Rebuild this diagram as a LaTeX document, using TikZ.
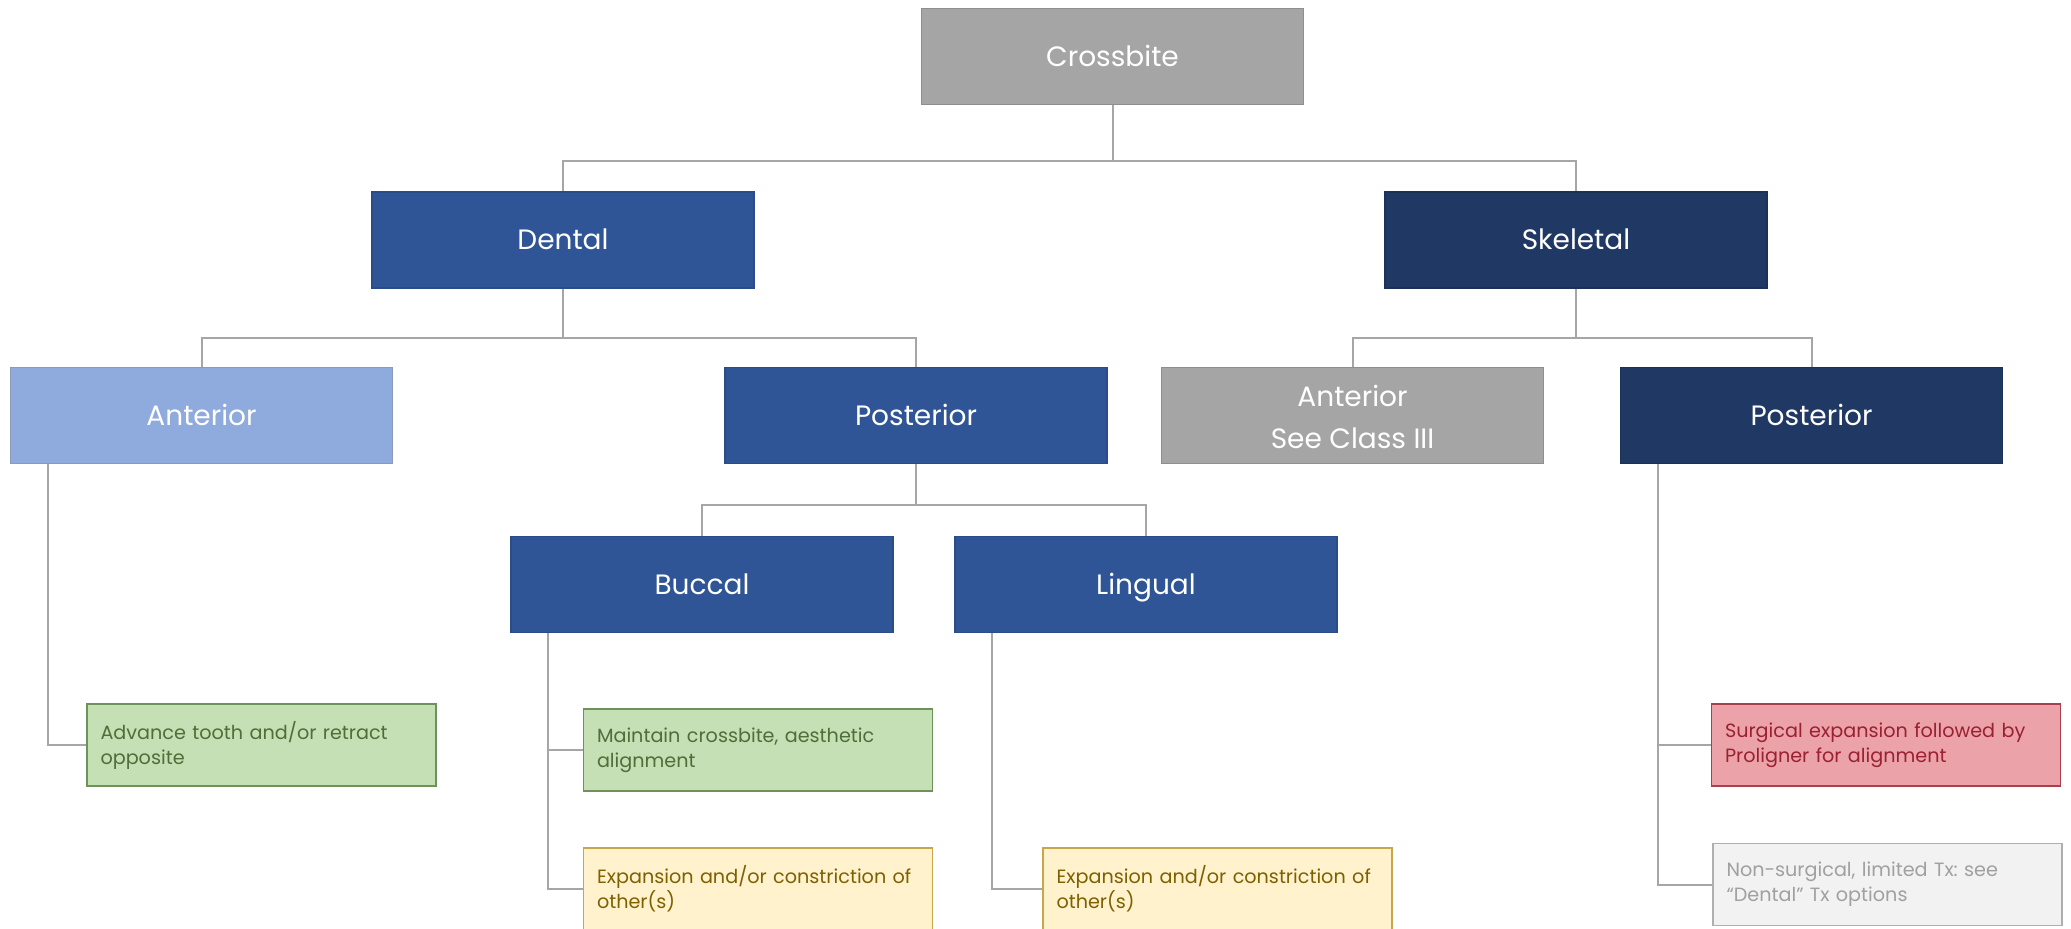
\documentclass[tikz,border=0pt]{standalone}
\usepackage{fontspec}
\setmainfont{Poppins}
\usetikzlibrary{calc}
\frenchspacing
\definecolor{conn}{HTML}{A6A6A6}
\definecolor{greyfill}{HTML}{A5A5A5}
\definecolor{greyedge}{HTML}{8E8E8E}
\definecolor{blue1}{HTML}{2F5597}
\definecolor{blue1edge}{HTML}{2A4C88}
\definecolor{navy}{HTML}{203864}
\definecolor{navyedge}{HTML}{1C3158}
\definecolor{lightblue}{HTML}{8FAADC}
\definecolor{lightblueedge}{HTML}{8A9BBA}
\definecolor{greenfill}{HTML}{C5E0B4}
\definecolor{greenedge}{HTML}{6F915A}
\definecolor{greentext}{HTML}{4E6E3A}
\definecolor{yellowfill}{HTML}{FFF2CC}
\definecolor{yellowedge}{HTML}{C9A64A}
\definecolor{yellowtext}{HTML}{7F6000}
\definecolor{redfill}{HTML}{EBA3A9}
\definecolor{rededge}{HTML}{A8404C}
\definecolor{redtext}{HTML}{9A2032}
\definecolor{palefill}{HTML}{F2F2F2}
\definecolor{paleedge}{HTML}{AFAFAF}
\definecolor{paletext}{HTML}{A0A0A0}
\begin{document}
\begin{tikzpicture}[x=0.5pt,y=-0.5pt,
  mainbox/.style={fill=#1, rectangle, minimum width=191pt, minimum height=48pt,
    inner sep=0pt, align=center, text=white, line width=0.7pt,
    font=\fontsize{14}{21}\selectfont,
    execute at begin node={\rule[-6.3pt]{0pt}{22.4pt}}},
  leaf/.style={rectangle, minimum width=174.5pt, minimum height=41pt,
    text width=161pt, inner xsep=6.75pt, inner ysep=0pt, align=left,
    line width=0.8pt, font=\fontsize{9.6}{12.5}\selectfont},
  greenleaf/.style={leaf, fill=greenfill, draw=greenedge, text=greentext},
  yellowleaf/.style={leaf, fill=yellowfill, draw=yellowedge, text=yellowtext},
  redleaf/.style={leaf, fill=redfill, draw=rededge, text=redtext},
  paleleaf/.style={leaf, fill=palefill, draw=paleedge, text=paletext},
  link/.style={draw=conn, line width=1pt}
]
\useasboundingbox (0,0) rectangle (2071,929);

% level 0
\node[mainbox=greyfill, draw=greyedge] (cross) at (1112.5,56.5) {Crossbite};
% level 1
\node[mainbox=blue1, draw=blue1edge] (dental) at (563,240) {Dental};
\node[mainbox=navy, draw=navyedge] (skeletal) at (1576,240) {Skeletal};
% level 2
\node[mainbox=lightblue, draw=lightblueedge] (ant) at (201.5,415.5) {Anterior};
\node[mainbox=blue1, draw=blue1edge] (post) at (916,415.5) {Posterior};
\node[mainbox=greyfill, draw=greyedge] (antsk) at (1352.5,415.5)
  {\rule{0pt}{18.1pt}Anterior\\\rule[-6.3pt]{0pt}{6.3pt}See Class III};
\node[mainbox=navy, draw=navyedge] (postsk) at (1811.5,415.5) {Posterior};
% level 3
\node[mainbox=blue1, draw=blue1edge] (buccal) at (702,584.5) {Buccal};
\node[mainbox=blue1, draw=blue1edge] (lingual) at (1146,584.5) {Lingual};
% leaves
\node[greenleaf] (leafA) at (261.5,745) {Advance tooth and/or retract opposite};
\node[greenleaf] (leafB1) at (758,750) {Maintain crossbite, aesthetic alignment};
\node[yellowleaf] (leafB2) at (758,889) {Expansion and/or constriction of other(s)};
\node[yellowleaf] (leafL) at (1217.5,889) {Expansion and/or constriction of other(s)};
\node[redleaf] (leafR) at (1886,745) {Surgical expansion followed by Proligner for alignment};
\node[paleleaf] (leafG) at (1887.5,884.5) {Non-surgical, limited Tx: see ``Dental'' Tx options};

% connectors
\draw[link] (cross.south) -- ++(0,56) -| (dental.north);
\draw[link] (cross.south) ++(0,56) -| (skeletal.north);
\draw[link] (dental.south) -- ++(0,49) -| (ant.north);
\draw[link] (dental.south) ++(0,49) -| (post.north);
\draw[link] (skeletal.south) -- ++(0,49) -| (antsk.north);
\draw[link] (skeletal.south) ++(0,49) -| (postsk.north);
\draw[link] (post.south) -- ++(0,41) -| (buccal.north);
\draw[link] (post.south) ++(0,41) -| (lingual.north);

\draw[link] ($(ant.south west)+(38,0)$) |- (leafA.west);
\draw[link] ($(buccal.south west)+(38,0)$) |- (leafB1.west);
\draw[link] ($(buccal.south west)+(38,0)$) |- (leafB2.west);
\draw[link] ($(lingual.south west)+(38,0)$) |- (leafL.west);
\draw[link] ($(postsk.south west)+(38,0)$) |- (leafR.west);
\draw[link] ($(postsk.south west)+(38,0)$) |- (leafG.west);
\end{tikzpicture}
\end{document}
